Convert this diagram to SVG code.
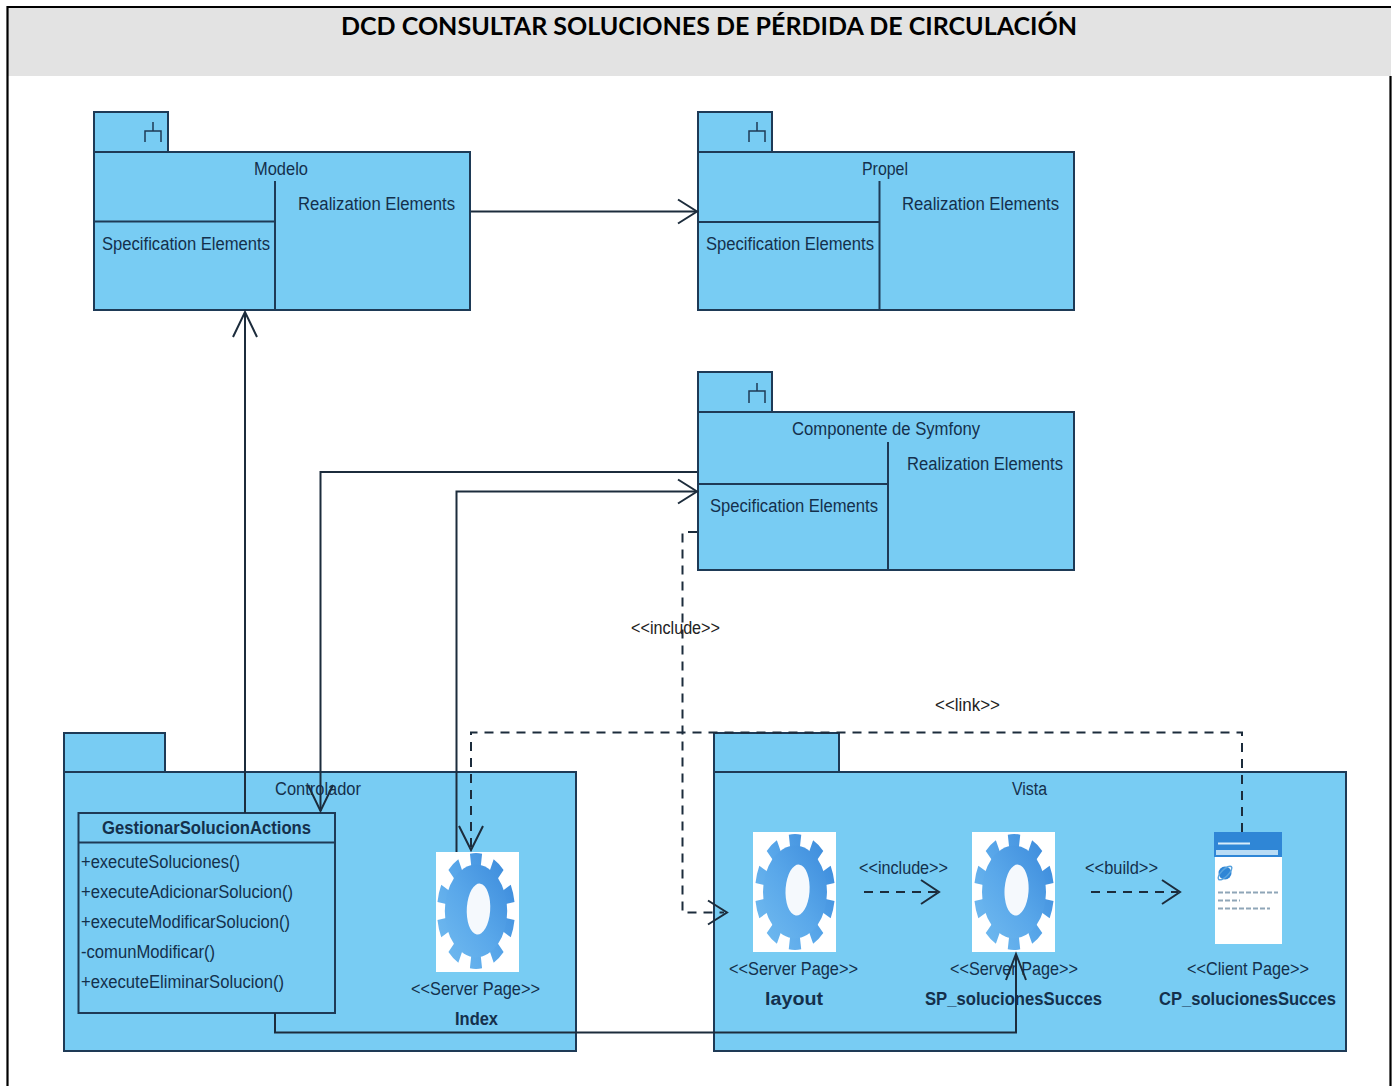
<svg xmlns="http://www.w3.org/2000/svg" width="1395" height="1086" viewBox="0 0 1395 1086">
<style>
.pk{fill:#78ccf3;stroke:#1e3a56;stroke-width:2}
.dv{fill:none;stroke:#1e3a56;stroke-width:2}
.ic{fill:none;stroke:#1e3a56;stroke-width:1.5}
.t{font-family:"Liberation Sans",Arial,sans-serif;font-size:18px;fill:#14304c}
.b{font-family:"Liberation Sans",Arial,sans-serif;font-size:18px;font-weight:bold;fill:#14304c}
.k{font-family:"Liberation Sans",Arial,sans-serif;font-size:18px;fill:#222}
.c{fill:none;stroke:#1c2c3c;stroke-width:2}
.d{fill:none;stroke:#1c2c3c;stroke-width:2;stroke-dasharray:9 7}
.h{fill:none;stroke:#1c2c3c;stroke-width:2}
.wh{fill:#fff}
</style>
<defs>
<linearGradient id="gg" gradientUnits="userSpaceOnUse" x1="40" y1="-40" x2="-40" y2="40">
<stop offset="0" stop-color="#3d8cdc"/><stop offset=".55" stop-color="#5aa8ea"/><stop offset="1" stop-color="#6fb9ef"/>
</linearGradient>
<g id="gear">
<circle r="43" fill="none" stroke="url(#gg)" stroke-width="14" pathLength="100" stroke-dasharray="5 5" transform="rotate(9)"/>
<circle r="40" fill="url(#gg)"/>
<ellipse cx="3" cy="-2" rx="15" ry="22" fill="#f5f9fd" transform="rotate(6)"/>
</g>
</defs>
<rect width="1395" height="1086" fill="#fff"/>
<g id="frame">
<rect x="8" y="8" width="1383" height="68" fill="#e3e3e3"/>
<path d="M1391 7H7.5V1086M1390.5 76V1086" fill="none" stroke="#000" stroke-width="2.2"/>
<text x="341" y="35" font-family="Lato,'Open Sans',sans-serif" font-size="24" font-weight="bold" fill="#000" textLength="736" lengthAdjust="spacingAndGlyphs">DCD CONSULTAR SOLUCIONES DE PÉRDIDA DE CIRCULACIÓN</text>
</g>
<g id="pkg-modelo">
<rect class="pk" x="94" y="112" width="74" height="40"/>
<rect class="pk" x="94" y="152" width="376" height="158"/>
<path class="dv" d="M275 181V310M94 221.5H275"/>
<path class="ic" d="M153 122V131M145 142V131H161V142"/>
<text class="t" x="254" y="175" textLength="54" lengthAdjust="spacingAndGlyphs">Modelo</text>
<text class="t" x="298" y="210" textLength="157" lengthAdjust="spacingAndGlyphs">Realization Elements</text>
<text class="t" x="102" y="250" textLength="168" lengthAdjust="spacingAndGlyphs">Specification Elements</text>
</g>
<g id="pkg-propel">
<rect class="pk" x="698" y="112" width="74" height="40"/>
<rect class="pk" x="698" y="152" width="376" height="158"/>
<path class="dv" d="M879.5 181V310M698 222H879.5"/>
<path class="ic" d="M757 122V131M749 142V131H765V142"/>
<text class="t" x="862" y="175" textLength="46" lengthAdjust="spacingAndGlyphs">Propel</text>
<text class="t" x="902" y="210" textLength="157" lengthAdjust="spacingAndGlyphs">Realization Elements</text>
<text class="t" x="706" y="250" textLength="168" lengthAdjust="spacingAndGlyphs">Specification Elements</text>
</g>
<g id="pkg-symfony">
<rect class="pk" x="698" y="372" width="74" height="40"/>
<rect class="pk" x="698" y="412" width="376" height="158"/>
<path class="dv" d="M888 442V570M698 484H888"/>
<path class="ic" d="M757 383V391M749 403V391H765V403"/>
<text class="t" x="792" y="435" textLength="188" lengthAdjust="spacingAndGlyphs">Componente de Symfony</text>
<text class="t" x="907" y="470" textLength="156" lengthAdjust="spacingAndGlyphs">Realization Elements</text>
<text class="t" x="710" y="512" textLength="168" lengthAdjust="spacingAndGlyphs">Specification Elements</text>
</g>
<g id="pkg-controlador">
<rect class="pk" x="64" y="733" width="101" height="39"/>
<rect class="pk" x="64" y="772" width="512" height="279"/>
<text class="t" x="275" y="795" textLength="86" lengthAdjust="spacingAndGlyphs">Controlador</text>
</g>
<g id="class-gestionar">
<rect class="pk" x="78.500" y="813" width="256.500" height="200"/>
<path class="dv" d="M78.500 842.500H335"/>
<text class="b" x="102" y="834" textLength="209" lengthAdjust="spacingAndGlyphs">GestionarSolucionActions</text>
<text class="t" x="81" y="868" textLength="159" lengthAdjust="spacingAndGlyphs">+executeSoluciones()</text>
<text class="t" x="81" y="898" textLength="212" lengthAdjust="spacingAndGlyphs">+executeAdicionarSolucion()</text>
<text class="t" x="81" y="928" textLength="209" lengthAdjust="spacingAndGlyphs">+executeModificarSolucion()</text>
<text class="t" x="81" y="958" textLength="134" lengthAdjust="spacingAndGlyphs">-comunModificar()</text>
<text class="t" x="81" y="988" textLength="203" lengthAdjust="spacingAndGlyphs">+executeEliminarSolucion()</text>
</g>
<g id="node-index">
<rect class="wh" x="436" y="852" width="83" height="120"/>
<use href="#gear" transform="translate(476 911) scale(.78 1.16)"/>
<text class="t" x="411" y="995" textLength="129" lengthAdjust="spacingAndGlyphs">&lt;&lt;Server Page&gt;&gt;</text>
<text class="b" x="455" y="1025" textLength="43" lengthAdjust="spacingAndGlyphs">Index</text>
</g>
<g id="pkg-vista">
<rect class="pk" x="714" y="733" width="125" height="39"/>
<rect class="pk" x="714" y="772" width="632" height="279"/>
<text class="t" x="1012" y="795" textLength="35" lengthAdjust="spacingAndGlyphs">Vista</text>
</g>
<g id="node-layout">
<rect class="wh" x="753" y="832" width="83" height="120"/>
<use href="#gear" transform="translate(795 892) scale(.8 1.16)"/>
<text class="t" x="729" y="975" textLength="129" lengthAdjust="spacingAndGlyphs">&lt;&lt;Server Page&gt;&gt;</text>
<text class="b" x="765" y="1005" textLength="58" lengthAdjust="spacingAndGlyphs">layout</text>
</g>
<g id="node-sp">
<rect class="wh" x="972" y="832" width="83" height="120"/>
<use href="#gear" transform="translate(1014 892) scale(.8 1.16)"/>
<text class="t" x="950" y="975" textLength="128" lengthAdjust="spacingAndGlyphs">&lt;&lt;Server Page&gt;&gt;</text>
<text class="b" x="925" y="1005" textLength="177" lengthAdjust="spacingAndGlyphs">SP_solucionesSucces</text>
</g>
<g id="node-cp">
<rect class="wh" x="1215" y="832" width="67" height="112"/>
<rect x="1214" y="832" width="68" height="25" fill="#2f86d6"/>
<rect x="1216" y="850" width="62" height="5" fill="#b9dcf5"/>
<path d="M1218 843.500H1250" stroke="#d8ecfa" stroke-width="2"/>
<circle cx="1225" cy="873" r="6.500" fill="#2f86d6"/>
<ellipse cx="1225" cy="873" rx="9" ry="3.500" fill="none" stroke="#5aa4de" stroke-width="1.500" transform="rotate(-45 1225 873)"/>
<path d="M1218 892.500H1278M1218 900.500H1240M1218 908.500H1270" stroke="#8fa6b8" stroke-width="2" stroke-dasharray="5 2"/>
<text class="t" x="1187" y="975" textLength="122" lengthAdjust="spacingAndGlyphs">&lt;&lt;Client Page&gt;&gt;</text>
<text class="b" x="1159" y="1005" textLength="177" lengthAdjust="spacingAndGlyphs">CP_solucionesSucces</text>
</g>
<g id="connectors">
<path class="c" d="M471 211.500H696"/><path class="h" d="M678 199.500L697 211.500L678 223.500"/>
<path class="c" d="M245 813V312"/><path class="h" d="M233 337L245 312L257 337"/>
<path class="c" d="M697 472H320.500V811"/><path class="h" d="M308 785L320.500 811L333 785"/>
<path class="c" d="M456.500 852V491.500H696"/><path class="h" d="M678 479.500L697 491.500L678 503.500"/>
<path class="c" d="M275 1013V1032.500H1016V956"/><path class="h" d="M1006 980L1016 954L1026 980"/>
<path class="d" d="M697 532H682.500V912.500H724"/><path class="h" d="M708 900.500L727 912.500L708 924.500"/>
<path class="d" d="M1242 832V732.500H471V848"/><path class="h" d="M459 826L471 850L483 826"/>
<path class="d" d="M864 892H937"/><path class="h" d="M921 880L939 892L921 904"/>
<path class="d" d="M1091 892H1178"/><path class="h" d="M1162 880L1180 892L1162 904"/>
<text class="k" x="631" y="634" textLength="89" lengthAdjust="spacingAndGlyphs">&lt;&lt;include&gt;&gt;</text>
<text class="k" x="935" y="711" textLength="65" lengthAdjust="spacingAndGlyphs">&lt;&lt;link&gt;&gt;</text>
<text class="t" x="859" y="874" textLength="89" lengthAdjust="spacingAndGlyphs">&lt;&lt;include&gt;&gt;</text>
<text class="t" x="1085" y="874" textLength="73" lengthAdjust="spacingAndGlyphs">&lt;&lt;build&gt;&gt;</text>
</g>
</svg>
